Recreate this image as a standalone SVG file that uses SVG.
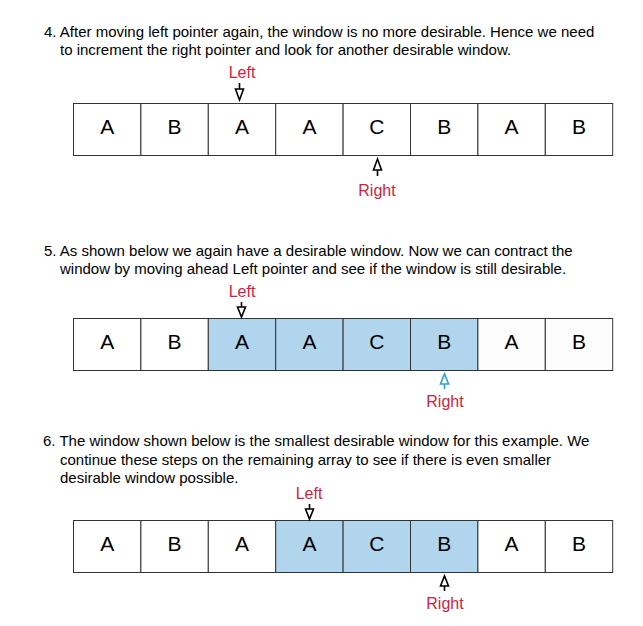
<svg xmlns="http://www.w3.org/2000/svg" width="643" height="626" viewBox="0 0 643 626">
<style>
.t{font-family:"Liberation Sans",Arial,sans-serif;font-size:15px;fill:#000}
.c{fill:#fff;stroke:#333;stroke-width:1}
.b{fill:#b1d5ec;stroke:#333;stroke-width:1}
.l{font-family:"Liberation Sans",Arial,sans-serif;font-size:21px;fill:#000;text-anchor:middle}
.p{font-family:"Liberation Sans",Arial,sans-serif;font-size:16px;fill:#d0223f;text-anchor:middle}
.a{fill:none;stroke:#000;stroke-width:1.6}
.ab{fill:none;stroke:#2aa0d8;stroke-width:1.6}
</style>
<rect width="643" height="626" fill="#fff"/>
<g id="text4" class="t">
<text x="44" y="37">4. After moving left pointer again, the window is no more desirable. Hence we need</text>
<text x="60" y="55">to increment the right pointer and look for another desirable window.</text>
</g>
<g id="text5" class="t">
<text x="44" y="256">5. As shown below we again have a desirable window. Now we can contract the</text>
<text x="60" y="274">window by moving ahead Left pointer and see if the window is still desirable.</text>
</g>
<g id="text6" class="t">
<text x="43" y="446">6. The window shown below is the smallest desirable window for this example. We</text>
<text x="60" y="465">continue these steps on the remaining array to see if there is even smaller</text>
<text x="60" y="483">desirable window possible.</text>
</g>
<g id="row1">
<rect class="c" x="73.5" y="103.5" width="67.4" height="52"/>
<rect class="c" x="140.9" y="103.5" width="67.4" height="52"/>
<rect class="c" x="208.3" y="103.5" width="67.4" height="52"/>
<rect class="c" x="275.7" y="103.5" width="67.4" height="52"/>
<rect class="c" x="343.1" y="103.5" width="67.4" height="52"/>
<rect class="c" x="410.5" y="103.5" width="67.4" height="52"/>
<rect class="c" x="477.9" y="103.5" width="67.4" height="52"/>
<rect class="c" x="545.3" y="103.5" width="67.4" height="52"/>
<text class="l" x="107.2" y="134">A</text>
<text class="l" x="174.6" y="134">B</text>
<text class="l" x="242" y="134">A</text>
<text class="l" x="309.4" y="134">A</text>
<text class="l" x="376.8" y="134">C</text>
<text class="l" x="444.2" y="134">B</text>
<text class="l" x="511.6" y="134">A</text>
<text class="l" x="579" y="134">B</text>
</g>
<g id="row2">
<rect class="c" x="73.5" y="318.5" width="67.4" height="52"/>
<rect class="c" x="140.9" y="318.5" width="67.4" height="52"/>
<rect class="b" x="208.3" y="318.5" width="67.4" height="52"/>
<rect class="b" x="275.7" y="318.5" width="67.4" height="52"/>
<rect class="b" x="343.1" y="318.5" width="67.4" height="52"/>
<rect class="b" x="410.5" y="318.5" width="67.4" height="52"/>
<rect class="c" x="477.9" y="318.5" width="67.4" height="52" style="fill:#fcfcfc"/>
<rect class="c" x="545.3" y="318.5" width="67.4" height="52" style="fill:#fcfcfc"/>
<text class="l" x="107.2" y="349">A</text>
<text class="l" x="174.6" y="349">B</text>
<text class="l" x="242" y="349">A</text>
<text class="l" x="309.4" y="349">A</text>
<text class="l" x="376.8" y="349">C</text>
<text class="l" x="444.2" y="349">B</text>
<text class="l" x="511.6" y="349">A</text>
<text class="l" x="579" y="349">B</text>
</g>
<g id="row3">
<rect class="c" x="73.5" y="520.5" width="67.4" height="52"/>
<rect class="c" x="140.9" y="520.5" width="67.4" height="52"/>
<rect class="c" x="208.3" y="520.5" width="67.4" height="52"/>
<rect class="b" x="275.7" y="520.5" width="67.4" height="52"/>
<rect class="b" x="343.1" y="520.5" width="67.4" height="52"/>
<rect class="b" x="410.5" y="520.5" width="67.4" height="52"/>
<rect class="c" x="477.9" y="520.5" width="67.4" height="52"/>
<rect class="c" x="545.3" y="520.5" width="67.4" height="52"/>
<text class="l" x="107.2" y="551">A</text>
<text class="l" x="174.6" y="551">B</text>
<text class="l" x="242" y="551">A</text>
<text class="l" x="309.4" y="551">A</text>
<text class="l" x="376.8" y="551">C</text>
<text class="l" x="444.2" y="551">B</text>
<text class="l" x="511.6" y="551">A</text>
<text class="l" x="579" y="551">B</text>
</g>
<g id="labels">
<text class="p" x="242" y="78">Left</text>
<text class="p" x="377" y="196">Right</text>
<text class="p" x="242" y="297">Left</text>
<text class="p" x="445" y="407">Right</text>
<text class="p" x="309" y="499">Left</text>
<text class="p" x="445" y="609">Right</text>
</g>
<g id="connectors">
<path class="a" d="M239.5 83v6M235.5 89h8l-4 11z"/>
<path class="a" d="M377.5 176v-6M373.5 170h8l-4 -11z"/>
<path class="a" d="M241.5 302v5M237.5 307h8l-4 10z"/>
<path class="ab" d="M444.5 389v-5M440.5 384h8l-4 -10z"/>
<path class="a" d="M309.5 504v5M305.5 509h8l-4 10z"/>
<path class="a" d="M444.5 591v-5M440.5 586h8l-4 -10z"/>
</g>
</svg>
